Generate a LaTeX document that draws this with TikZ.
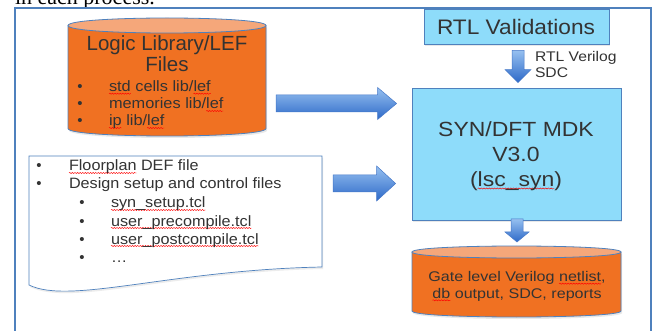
\documentclass[tikz,border=0pt]{standalone}
\usepackage{fontspec}
\setmainfont{Liberation Sans}
\newfontfamily\seriffont{Liberation Serif}
\usetikzlibrary{calc,decorations.pathmorphing,shadows}
\definecolor{orbody}{RGB}{240,113,34}
\definecolor{ortop}{RGB}{245,167,122}
\definecolor{edgeblue}{RGB}{79,129,189}
\definecolor{boxfill}{RGB}{142,220,250}
\definecolor{arrlight}{RGB}{150,192,240}
\definecolor{arrdark}{RGB}{45,105,200}
\definecolor{arredge}{RGB}{70,120,200}
\definecolor{txt}{RGB}{51,51,51}
\newcommand\fs[1]{\fontsize{#1}{#1}\selectfont}
\newcommand\sx[2]{\scalebox{#1}[1]{#2}}
\newsavebox\splbox
\newcommand\spl[1]{\sbox\splbox{#1}\rlap{\tikz[overlay]\draw[spell](0pt,-2pt)--(\the\wd\splbox,-2pt);}\usebox\splbox}
\tikzset{
  spell/.style={draw=red, line width=0.45pt, decorate, decoration={snake, amplitude=0.55pt, segment length=2.4pt}},
  lbl/.style={text=txt, inner sep=0pt, outer sep=0pt},
  bluebox/.style={fill=boxfill, draw=edgeblue, line width=0.8pt, inner sep=0pt,
    drop shadow={opacity=0.18, shadow xshift=1pt, shadow yshift=-2pt}},
  hole/.style={inner sep=0pt, outer sep=0pt},
  arrowst/.style={top color=arrlight, bottom color=arrdark, draw=arredge, line width=0.5pt},
  cylbody/.style={fill=orbody, drop shadow={opacity=0.18, shadow xshift=1pt, shadow yshift=-2pt}},
  cyledge/.style={draw=edgeblue, line width=0.8pt},
  cyltop/.style={fill=ortop, draw=edgeblue, line width=0.8pt},
}
\newcommand\harr[4]{\shade[arrowst] let \p1=(#1), \p2=(#2) in
  (\x1,\y1+#3pt) -- (\x2-19pt,\y1+#3pt) -- (\x2-19pt,\y1+#4pt) -- (\x2,\y1) --
  (\x2-19pt,\y1-#4pt) -- (\x2-19pt,\y1-#3pt) -- (\x1,\y1-#3pt) -- cycle;}
\newcommand\varr[5]{\shade[arrowst] let \p1=(#1), \p2=(#2) in
  (\x1-#3pt,\y1) -- (\x1-#3pt,\y2+#5pt) -- (\x1-#4pt,\y2+#5pt) -- (\x1,\y2) --
  (\x1+#4pt,\y2+#5pt) -- (\x1+#3pt,\y2+#5pt) -- (\x1+#3pt,\y1) -- cycle;}
\begin{document}
\begin{tikzpicture}[x=1pt,y=-1pt]
\useasboundingbox (0,0) rectangle (656,331);
\clip (0,0) rectangle (656,331);
\fill[white] (0,0) rectangle (656,331);
% caption line cut off at the top
\node[lbl, anchor=base west, text=black] (toptext) at (15,5) {\seriffont\fs{22}in each process.};
% outer frame
\draw[edgeblue, line width=2.2pt] (15,8) rectangle (651,360);

% ---- cylinder 1: Logic Library/LEF
\fill[cylbody] (68,25.5) -- (68,128.5) .. controls (68,138.5) and (266,138.5) .. (266,128.5) -- (266,25.5) -- cycle;
\draw[cyledge] (68,25.5) -- (68,128.5) .. controls (68,138.5) and (266,138.5) .. (266,128.5) -- (266,25.5);
\filldraw[cyltop] (68,25.5) .. controls (68,15.5) and (266,15.5) .. (266,25.5) .. controls (266,35.5) and (68,35.5) .. (68,25.5) -- cycle;
\node[hole, minimum width=198pt, minimum height=118pt] (cyl1) at (167,77) {};
\node[lbl, anchor=base] (libt1) at (167,50.7) {\fs{20.5}Logic Library/LEF};
\node[lbl, anchor=base] (libt2) at (167,71.7) {\fs{20.5}Files};
\node[lbl, anchor=base] (lb1) at (80,91.7) {\fs{15}•};
\node[lbl, anchor=base] (lb2) at (80,109) {\fs{15}•};
\node[lbl, anchor=base] (lb3) at (80,126) {\fs{15}•};
\node[lbl, anchor=base west] (li1) at (109,91.7) {\fs{15}\sx{1.09}{\spl{std} cells lib/\spl{lef}}};
\node[lbl, anchor=base west] (li2) at (109,109) {\fs{15}\sx{1.09}{memories lib/\spl{lef}}};
\node[lbl, anchor=base west] (li3) at (109,126) {\fs{15}\sx{1.09}{\spl{ip} lib/\spl{lef}}};

% ---- document shape
\filldraw[fill=white, draw=edgeblue, line width=0.7pt,
  drop shadow={opacity=0.15, shadow xshift=1pt, shadow yshift=-2pt}]
  (29,156) -- (322,156) -- (322,267) .. controls (170,270) and (70,305) .. (29,285) -- cycle;
\node[hole, minimum width=293pt, minimum height=130pt] (doc) at (175.5,221) {};
\node[lbl, anchor=base] (db1) at (39,171) {\fs{15}•};
\node[lbl, anchor=base] (db2) at (39,189) {\fs{15}•};
\node[lbl, anchor=base west] (dt1) at (69,171) {\fs{15}\sx{1.08}{\spl{Floorplan} DEF file}};
\node[lbl, anchor=base west] (dt2) at (69,189) {\fs{15}\sx{1.08}{Design setup and control files}};
\node[lbl, anchor=base] (db3) at (82,208) {\fs{15}•};
\node[lbl, anchor=base] (db4) at (82,226) {\fs{15}•};
\node[lbl, anchor=base] (db5) at (82,244) {\fs{15}•};
\node[lbl, anchor=base] (db6) at (82,262) {\fs{15}•};
\node[lbl, anchor=base west] (dt3) at (111,208) {\fs{15}\sx{1.08}{\spl{syn\_setup.tcl}}};
\node[lbl, anchor=base west] (dt4) at (111,226) {\fs{15}\sx{1.08}{\spl{user\_precompile.tcl}}};
\node[lbl, anchor=base west] (dt5) at (111,244) {\fs{15}\sx{1.08}{\spl{user\_postcompile.tcl}}};
\node[lbl, anchor=base west] (dt6) at (111,262) {\fs{15}\sx{1.08}{…}};

% ---- RTL Validations
\node[bluebox, minimum width=185pt, minimum height=35pt] (rtl) at (516.5,26.5) {};
\node[lbl, anchor=base] (rtlt) at (516,35) {\fs{21}\sx{1.08}{RTL Validations}};
\node[lbl, anchor=base west] (rv1) at (535,61.7) {\fs{14}\sx{1.12}{RTL Verilog}};
\node[lbl, anchor=base west] (rv2) at (535,78) {\fs{14}\sx{1.12}{SDC}};

% ---- SYN/DFT MDK
\node[bluebox, minimum width=209pt, minimum height=132pt] (syn) at (516.5,154) {};
\node[lbl, anchor=base] (s1) at (516,136.5) {\fs{20.5}\sx{1.12}{SYN/DFT MDK}};
\node[lbl, anchor=base] (s2) at (516,161.7) {\fs{20.5}\sx{1.12}{V3.0}};
\node[lbl, anchor=base] (s3) at (516,186.5) {\fs{20.5}\sx{1.12}{(\spl{lsc\_syn})}};

% ---- cylinder 2: outputs
\fill[cylbody] (412,252) -- (412,311) .. controls (412,319) and (621,319) .. (621,311) -- (621,252) -- cycle;
\draw[cyledge] (412,252) -- (412,311) .. controls (412,319) and (621,319) .. (621,311) -- (621,252);
\filldraw[cyltop] (412,252) .. controls (412,244) and (621,244) .. (621,252) .. controls (621,260) and (412,260) .. (412,252) -- cycle;
\node[hole, minimum width=209pt, minimum height=71pt] (cyl2) at (516.5,281.5) {};
\node[lbl, anchor=base] (g1) at (517,281.7) {\fs{14}\sx{1.15}{Gate level Verilog \spl{netlist},}};
\node[lbl, anchor=base] (g2) at (517,298.3) {\fs{14}\sx{1.15}{\spl{db} output, SDC, reports}};

% ---- block arrows (connectors)
\coordinate (a1s) at ($(cyl1.east)+(10,26.5)$);
\coordinate (a1e) at ($(syn.west)+(-15,-50.5)$);
\coordinate (a2s) at ($(doc.east)+(11,-37.5)$);
\coordinate (a2e) at ($(syn.west)+(-16,29.5)$);
\coordinate (d1s) at ($(rtl.south)+(1.5,6)$);
\coordinate (d1e) at ($(syn.north)+(1.5,-5)$);
\coordinate (d2s) at ($(syn.south)+(0.5,-1.5)$);
\coordinate (d2e) at ($(cyl2.north)+(0.5,-4)$);
\harr{a1s}{a1e}{8.5}{16}
\harr{a2s}{a2e}{8.5}{17.5}
\varr{d1s}{d1e}{6}{13}{13}
\varr{d2s}{d2e}{6}{12}{10}
\end{tikzpicture}
\end{document}
